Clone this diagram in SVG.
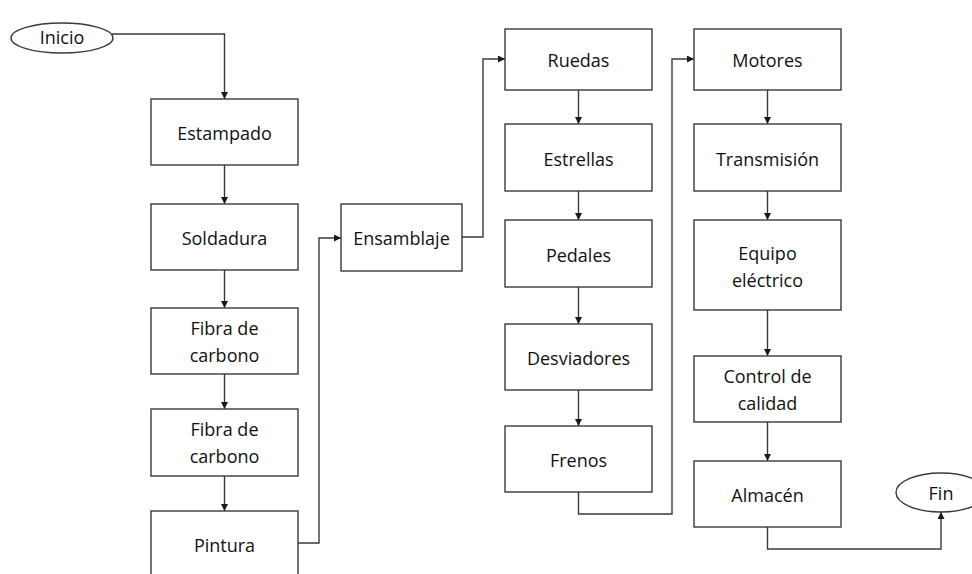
<svg xmlns="http://www.w3.org/2000/svg" width="972" height="574" viewBox="0 0 972 574">
<defs>
<marker id="ah" viewBox="0 0 10 10" refX="10" refY="5" markerWidth="7" markerHeight="7" markerUnits="userSpaceOnUse" orient="auto">
<path d="M0,0 L10,5 L0,10 z" fill="#1a1a1a"/>
</marker>
<style>
.box{fill:#fff;stroke:#3a3a3a;stroke-width:1.4}
.t{font-family:"Open Sans","Liberation Sans",sans-serif;font-size:18px;fill:#111;text-anchor:middle}
.c{fill:none;stroke:#3a3a3a;stroke-width:1.4;marker-end:url(#ah)}
</style>
</defs>
<rect width="972" height="574" fill="#fff"/>
<g id="connectors">
<path class="c" d="M112,34 H224.5 V99"/>
<path class="c" d="M224.5,165 V204"/>
<path class="c" d="M224.5,270 V308"/>
<path class="c" d="M224.5,374 V409"/>
<path class="c" d="M224.5,476 V511"/>
<path class="c" d="M298,543 H319 V238 H341"/>
<path class="c" d="M462,237 H483 V59 H505"/>
<path class="c" d="M578.5,90 V124"/>
<path class="c" d="M578.5,191 V220"/>
<path class="c" d="M578.5,287 V324"/>
<path class="c" d="M578.5,390 V426"/>
<path class="c" d="M578.5,492 V514 H672 V59 H694"/>
<path class="c" d="M767.5,90 V124"/>
<path class="c" d="M767.5,191 V220"/>
<path class="c" d="M767.5,310 V356"/>
<path class="c" d="M767.5,422 V461"/>
<path class="c" d="M767.5,527 V549 H941 V512"/>
</g>
<g id="inicio"><ellipse class="box" cx="62" cy="38" rx="51" ry="15"/><text class="t" x="62" y="44">Inicio</text></g>
<g id="estampado"><rect class="box" x="151" y="99" width="147" height="66"/><text class="t" x="224.5" y="140">Estampado</text></g>
<g id="soldadura"><rect class="box" x="151" y="204" width="147" height="66"/><text class="t" x="224.5" y="245">Soldadura</text></g>
<g id="fibra1"><rect class="box" x="151" y="308" width="147" height="66"/><text class="t" x="224.5" y="335">Fibra de</text><text class="t" x="224.5" y="361.5">carbono</text></g>
<g id="fibra2"><rect class="box" x="151" y="409" width="147" height="67"/><text class="t" x="224.5" y="436">Fibra de</text><text class="t" x="224.5" y="462.5">carbono</text></g>
<g id="pintura"><rect class="box" x="151" y="511" width="147" height="70"/><text class="t" x="224.5" y="552">Pintura</text></g>
<g id="ensamblaje"><rect class="box" x="341" y="204" width="121" height="67"/><text class="t" x="401.5" y="245">Ensamblaje</text></g>
<g id="ruedas"><rect class="box" x="505" y="29" width="147" height="61"/><text class="t" x="578.5" y="66.5">Ruedas</text></g>
<g id="estrellas"><rect class="box" x="505" y="124" width="147" height="67"/><text class="t" x="578.5" y="165.5">Estrellas</text></g>
<g id="pedales"><rect class="box" x="505" y="220" width="147" height="67"/><text class="t" x="578.5" y="261.5">Pedales</text></g>
<g id="desviadores"><rect class="box" x="505" y="324" width="147" height="66"/><text class="t" x="578.5" y="365">Desviadores</text></g>
<g id="frenos"><rect class="box" x="505" y="426" width="147" height="66"/><text class="t" x="578.5" y="466.5">Frenos</text></g>
<g id="motores"><rect class="box" x="694" y="29" width="147" height="61"/><text class="t" x="767.5" y="66.5">Motores</text></g>
<g id="transmision"><rect class="box" x="694" y="124" width="147" height="67"/><text class="t" x="767.5" y="165.5">Transmisión</text></g>
<g id="equipo"><rect class="box" x="694" y="220" width="147" height="90"/><text class="t" x="767.5" y="260">Equipo</text><text class="t" x="767.5" y="286.5">eléctrico</text></g>
<g id="control"><rect class="box" x="694" y="356" width="147" height="66"/><text class="t" x="767.5" y="383">Control de</text><text class="t" x="767.5" y="410">calidad</text></g>
<g id="almacen"><rect class="box" x="694" y="461" width="147" height="66"/><text class="t" x="767.5" y="501.5">Almacén</text></g>
<g id="fin"><ellipse class="box" cx="941" cy="492.5" rx="45" ry="19.5"/><text class="t" x="941" y="500">Fin</text></g>
</svg>
